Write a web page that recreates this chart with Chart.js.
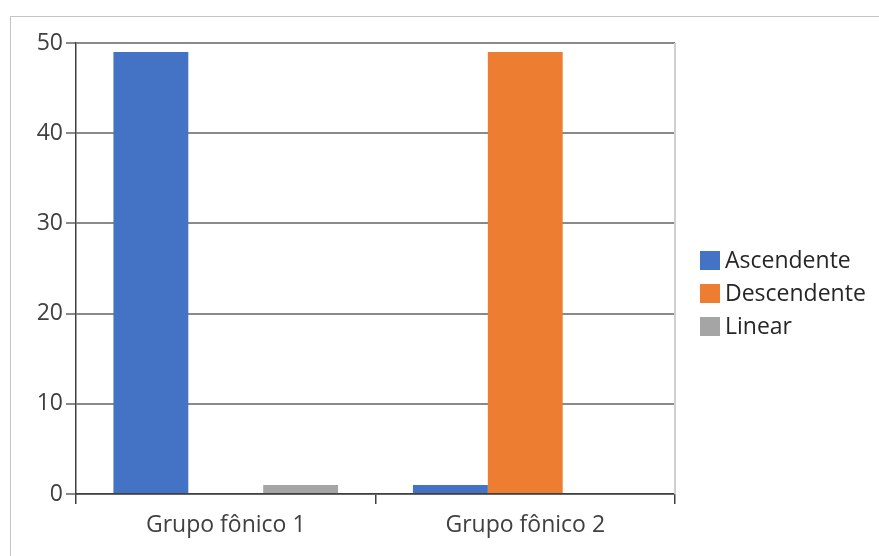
<!DOCTYPE html>
<html>
<head>
<meta charset="utf-8">
<script src="https://cdn.jsdelivr.net/npm/chart.js@4/dist/chart.umd.min.js"></script>
<style>
  html, body { margin: 0; padding: 0; background: #fff; overflow: hidden; }
  #frame { position: absolute; left: 10px; top: 16px; width: 900px; height: 600px; border: 1px solid #c4c4c4; }
  #wrap { position: absolute; left: 0; top: 0; width: 879px; height: 556px; }
</style>
</head>
<body>
<div id="frame"></div>
<div id="wrap"><canvas id="chart"></canvas></div>
<script>
// data
const categories = ['Grupo fônico 1', 'Grupo fônico 2'];
const seriesNames = ['Ascendente', 'Descendente', 'Linear'];
const ascendente = [49, 1];
const descendente = [0, 49];
const linear = [1, 0];
const yTicks = [0, 10, 20, 30, 40, 50];

const colors = ['#4472C4', '#ED7D31', '#A5A5A5'];
const fontFamily = '"Open Sans", "Noto Sans", sans-serif';

// plot frame: right border line + legend drawn by hand
const extras = {
    id: 'extras',
    afterDraw(chart) {
        const ctx = chart.ctx;
        const area = chart.chartArea;
        ctx.save();
        ctx.strokeStyle = '#d0d0d0';
        ctx.lineWidth = 2;
        ctx.beginPath();
        ctx.moveTo(area.right, area.top);
        ctx.lineTo(area.right, area.bottom);
        ctx.stroke();

        // legend
        ctx.font = '23px ' + fontFamily;
        ctx.textBaseline = 'middle';
        chart.data.datasets.forEach((ds, i) => {
            const y = 260 + i * 33;
            ctx.fillStyle = ds.backgroundColor;
            ctx.fillRect(700, y - 9, 20, 19);
            ctx.fillStyle = '#262626';
            ctx.fillText(ds.label, 725, y + 1);
        });
        ctx.restore();
    }
};

const ctx = document.getElementById('chart').getContext('2d');
new Chart(ctx, {
    type: 'bar',
    data: {
        labels: categories,
        datasets: [
            { label: seriesNames[0], data: ascendente, backgroundColor: colors[0] },
            { label: seriesNames[1], data: descendente, backgroundColor: colors[1] },
            { label: seriesNames[2], data: linear, backgroundColor: colors[2] }
        ]
    },
    options: {
        responsive: true,
        maintainAspectRatio: false,
        animation: false,
        layout: { padding: { left: 0, top: 43, right: 204, bottom: 0 } },
        datasets: { bar: { categoryPercentage: 0.75, barPercentage: 1 } },
        plugins: {
            legend: { display: false },
            tooltip: { enabled: false }
        },
        scales: {
            x: {
                offset: true,
                grid: {
                    offset: true,
                    drawOnChartArea: false,
                    drawTicks: true,
                    tickLength: 10,
                    color: '#404040',
                    lineWidth: 1.5
                },
                border: { display: true, color: '#404040', width: 1.5 },
                ticks: {
                    color: '#404040',
                    padding: 8,
                    font: { family: fontFamily, size: 23 }
                },
                afterFit(scale) { scale.height = 556 - 494; }
            },
            y: {
                min: 0,
                max: 50,
                afterBuildTicks(scale) { scale.ticks = yTicks.map(v => ({ value: v })); },
                grid: {
                    color: '#8a8a8a',
                    lineWidth: 2,
                    tickLength: 10
                },
                border: { display: true, color: '#404040', width: 1.5 },
                ticks: {
                    color: '#404040',
                    padding: 3,
                    font: { family: fontFamily, size: 23 }
                },
                afterFit(scale) { scale.width = 76; }
            }
        }
    },
    plugins: [extras]
});
</script>
</body>
</html>
